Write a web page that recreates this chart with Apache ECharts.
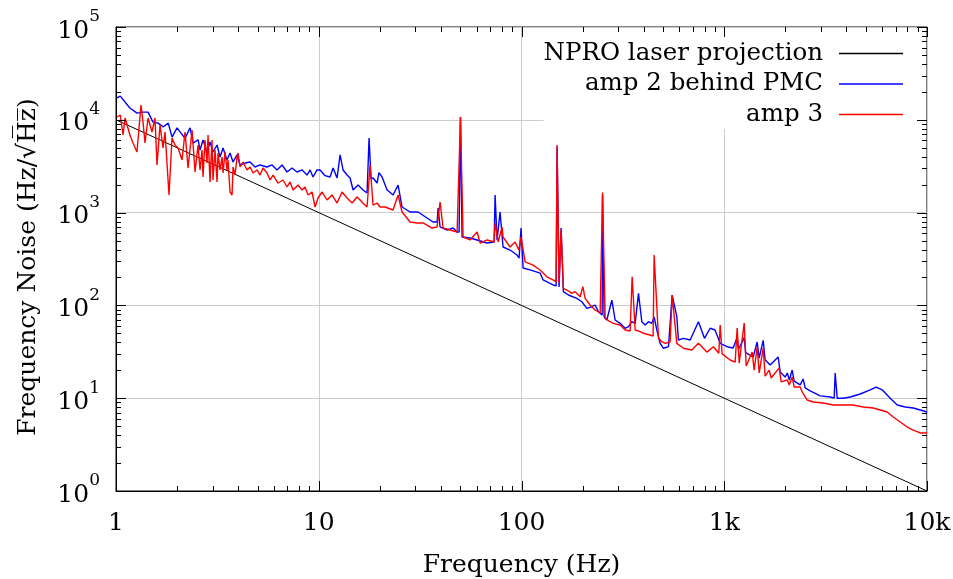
<!DOCTYPE html>
<html><head><meta charset="utf-8">
<script src="https://cdn.jsdelivr.net/npm/echarts@6/dist/echarts.min.js"></script>
<style>html,body{margin:0;padding:0;background:#fff}#c{width:953px;height:579px}</style>
</head><body><div id="c"></div>
<script>
const seriesNames = ['NPRO laser projection', 'amp 2 behind PMC', 'amp 3'];
const nproLine = [[1, 10000], [10000, 1]];
const amp2 = [[1.01,17200],[1.05,18000],[1.17,13400],[1.27,11800],[1.36,12100],[1.44,12100],[1.52,9500],[1.61,9200],[1.71,8400],[1.81,9200],[1.89,6500],[2.0,8200],[2.07,7400],[2.19,6300],[2.32,8200],[2.4,5600],[2.54,6100],[2.597,4727],[2.687,6060],[2.812,4500],[2.909,5765],[3.009,4500],[3.15,5350],[3.259,3970],[3.373,4970],[3.528,3690],[3.651,4390],[3.778,3510],[3.953,4180],[4.091,3260],[4.329,3420],[4.583,3510],[4.851,3100],[5.134,3260],[5.559,3100],[5.884,3260],[6.228,2880],[6.592,3260],[6.977,2740],[7.384,3020],[7.816,2740],[8.273,2880],[8.757,2540],[9.061,2880],[9.373,2420],[9.809,2880],[10.15,2880],[10.74,2500],[11.37,2420],[11.77,3020],[12.31,2360],[12.74,4180],[13.18,2880],[13.79,2540],[14.27,2360],[14.77,1752],[15.63,1983],[16.54,1752],[17.31,1627],[17.71,6370],[18.11,2300],[18.53,2360],[19.4,2084],[19.8,2700],[20.53,2420],[21.73,1752],[23.26,1548],[24.62,1983],[25.76,1149],[28.21,1015],[30.9,1015],[34.2,875],[36.64,792],[38.34,792],[38.78,1121],[39.66,700],[42.95,649],[45.99,682],[48.13,618],[49.24,618],[50,10700],[50.93,546],[55.78,532],[60.39,507],[67.69,470],[73.26,482],[74.1,1548],[75.78,507],[78.4,1015],[81.1,426],[87.8,395],[95.1,349],[97.3,324],[99.5,682],[101.8,253],[110.3,241],[123.5,223],[127.8,188],[143.2,166],[148.2,162],[149.8,5090],[153.2,158],[156.8,682],[160.9,140.5],[170.4,129.4],[187.4,119.2],[198.4,109.6],[210,93],[222.3,96.8],[230.7,101],[239.6,85.5],[249.9,78.8],[251,1548],[255.6,75],[263.6,69.6],[279,114],[289.6,69.6],[306.5,64.1],[324.4,56.7],[337,59],[350,66.7],[363.6,64.1],[377.6,135],[392.2,66.7],[407.2,61.5],[422.8,66.7],[439.3,64.1],[451,75],[465.1,54.3],[482.9,39],[501.4,34.5],[530.8,35.9],[553.4,129],[583.6,75.5],[594,42.4],[629,44.2],[679,42.4],[746,66.7],[798.6,44.2],[852,56.7],[900,54.3],[955,39],[1045,35.6],[1106,34.7],[1158,45],[1175,33.5],[1198,33.1],[1254,45],[1275,31],[1297,30.7],[1389,27.8],[1453,40.3],[1487,27],[1556,42],[1591,25.8],[1685,22.8],[1845,27.8],[1887,19.2],[1997,16.9],[2046,18.7],[2094,15.7],[2163,20.1],[2212,15.3],[2368,13.9],[2450,16.1],[2507,12.9],[2653,12.0],[2973,10.6],[3331,10.3],[3485,10],[3525,18.7],[3606,10],[3861,10],[4180,10.3],[4682,11.1],[5246,12.3],[5616,13.2],[6012,12.3],[6584,10],[7130,8.45],[7807,8.04],[8553,7.84],[9258,7.46],[10000,7.1]];
const amp3 = [[1.01,10720],[1.05,11270],[1.083,6860],[1.108,10460],[1.133,10460],[1.172,6860],[1.213,5620],[1.269,4500],[1.328,14430],[1.359,9470],[1.39,5620],[1.439,10460],[1.505,7390],[1.557,10460],[1.593,3260],[1.649,8790],[1.706,4970],[1.745,7390],[1.826,1548],[1.889,6370],[1.955,5350],[2.023,4970],[2.117,3690],[2.19,7390],[2.266,3020],[2.372,7770],[2.454,2740],[2.539,5350],[2.597,2880],[2.657,4727],[2.687,2420],[2.748,6060],[2.812,3420],[2.844,6860],[2.909,2140],[2.976,6060],[3.009,2245],[3.079,4727],[3.15,2140],[3.186,4390],[3.259,2880],[3.334,3970],[3.373,2670],[3.45,4500],[3.528,2880],[3.569,3690],[3.651,1667],[3.736,1548],[3.778,3100],[3.865,2540],[3.953,3970],[4.0,4390],[4.091,3100],[4.233,3510],[4.429,2880],[4.583,3100],[4.742,2670],[4.962,2880],[5.134,2540],[5.312,3020],[5.559,2670],[5.752,2245],[5.951,2540],[6.299,2084],[6.667,2245],[6.977,1888],[7.22,2140],[7.468,1752],[7.906,1983],[8.273,1752],[8.56,1888],[8.855,1548],[9.268,1667],[9.588,1149],[9.92,1437],[10.38,1667],[10.99,1367],[11.63,1548],[12.31,1268],[13.03,1667],[13.79,1437],[14.6,1268],[15.45,1472],[15.99,1367],[16.54,1260],[17.31,1149],[17.91,3260],[18.53,1200],[19.4,1268],[20.06,1149],[21.24,1149],[23.26,1067],[24.62,1548],[25.76,1015],[28.21,792],[30.55,773],[32.7,773],[36.2,682],[38.34,700],[39.66,1301],[41.05,682],[44.45,649],[48.13,618],[49.2,618],[50,10700],[51.51,546],[55.78,507],[60.39,618],[62.5,470],[67.69,507],[73.26,482],[74.1,773],[76.7,482],[80.23,700],[81.1,546],[87.8,426],[92.97,482],[97,395],[99.5,546],[104.2,294],[114.1,272],[123.5,241],[133.8,202],[143.2,188],[148.2,179],[149.8,5350],[153.2,174],[156.8,649],[160.9,152.9],[167.3,146.5],[177.1,135],[183.8,140.5],[194.6,124.1],[200.7,159],[206,119.2],[218,101],[230.7,89.2],[244.3,82.8],[249.9,78.8],[251,1650],[258.6,72.6],[273.6,66.7],[284,64.1],[306.5,61.5],[324.4,54.3],[343.4,53],[351.3,203.8],[363.6,54.3],[384.7,52.1],[399.5,50.1],[430.9,48],[445.9,46.8],[451,349],[473.8,44.2],[492.2,40.6],[511,39],[541,40.6],[553.4,129],[583.6,39],[629.2,34.5],[692,33.1],[746,39],[820.6,31.4],[884.6,35.9],[940,30.5],[955,61.5],[976,30],[1069,25.8],[1132,24.5],[1158,57],[1185,23.9],[1254,64.6],[1283,22.2],[1373,31.5],[1405,20.1],[1453,35.6],[1487,18.7],[1556,34.7],[1591,17.3],[1666,20.1],[1704,16.5],[1866,21.2],[1909,15],[2046,15.7],[2094,13.9],[2163,16.9],[2212,13.2],[2368,13.2],[2424,11.7],[2564,9.56],[2745,9.1],[3075,8.88],[3446,8.45],[3861,8.45],[4324,8.45],[4845,8.04],[5428,7.84],[5877,7.46],[6364,7.1],[6813,6.27],[7378,5.54],[7989,4.89],[8553,4.54],[9258,4.22],[10000,4.22]];
const xTicks = [1, 10, 100, 1000, 10000];
const xTickLabels = ['1', '10', '100', '1k', '10k'];
const yTicks = [1, 10, 100, 1000, 10000, 100000];
const yTickExponents = ['0', '1', '2', '3', '4', '5'];
const minorMultipliers = [2, 3, 4, 5, 6, 7, 8, 9];

const FONT = 'DejaVu Serif';
const FS = 25;
const MAJOR_LEN = 10, MINOR_LEN = 5;

function tickIndex(ticks, v) {
  return ticks.findIndex(t => Math.abs(Math.log10(t) - Math.log10(v)) < 1e-6);
}
function buildTickData(ticks) {
  const out = [];
  ticks.forEach((t, i) => {
    out.push([t, MAJOR_LEN]);
    if (i < ticks.length - 1) minorMultipliers.forEach(m => out.push([t * m, MINOR_LEN]));
  });
  return out;
}
const xTickData = buildTickData(xTicks).map(d => [d[0], yTicks[0], d[1]]);
const yTickData = buildTickData(yTicks).map(d => [xTicks[0], d[0], d[1]]);
const yLo = yTicks[0], yHi = yTicks[yTicks.length - 1];
const xLo = xTicks[0], xHi = xTicks[xTicks.length - 1];

function ln(x1, y1, x2, y2) {
  return { type: 'line', shape: { x1, y1, x2, y2 }, style: { stroke: '#000', lineWidth: 1 } };
}

const chart = echarts.init(document.getElementById('c'), null, { renderer: 'canvas' });
chart.setOption({
  animation: false,
  backgroundColor: '#fff',
  grid: { left: 116, right: 26, top: 27, bottom: 88, containLabel: false, outerBoundsMode: 'none',
    show: true, borderColor: '#000', borderWidth: 1, backgroundColor: 'transparent' },
  legend: {
    data: seriesNames, orient: 'vertical', right: 28, top: 28, align: 'right',
    icon: 'path://M0,0H50V1H0Z',
    itemWidth: 64, itemHeight: 14, itemGap: 5.5, padding: [13, 22, 2, 0],
    backgroundColor: '#fff', selectedMode: false, z: 4,
    textStyle: { fontFamily: FONT, fontSize: 24.5, color: '#000', padding: [0, 11, 0, 0] }
  },
  xAxis: {
    type: 'log', logBase: 10, min: xLo, max: xHi,
    name: 'Frequency (Hz)', nameLocation: 'middle', nameGap: 62,
    nameTextStyle: { fontFamily: FONT, fontSize: FS, color: '#000' },
    axisLine: { show: true, lineStyle: { color: '#000', width: 1 } },
    axisTick: { show: false }, minorTick: { show: false },
    splitLine: { show: true, lineStyle: { color: '#cccccc', width: 1 } },
    axisLabel: {
      fontFamily: FONT, fontSize: FS, color: '#000', margin: 20,
      formatter: v => { const i = tickIndex(xTicks, v); return i >= 0 ? xTickLabels[i] : ''; }
    }
  },
  yAxis: {
    type: 'log', logBase: 10, min: yLo, max: yHi,
    name: 'Frequency Noise (Hz/\u221AH\u0305z\u0305)', nameLocation: 'middle', nameGap: 75,
    nameTextStyle: { fontFamily: FONT, fontSize: FS, color: '#000', padding: [0, 16, 0, 0] },
    axisLine: { show: true, lineStyle: { color: '#000', width: 1 } },
    axisTick: { show: false }, minorTick: { show: false },
    splitLine: { show: true, lineStyle: { color: '#cccccc', width: 1 } },
    axisLabel: {
      fontFamily: FONT, fontSize: FS, color: '#000', margin: 16,
      formatter: v => { const i = tickIndex(yTicks, v); return i >= 0 ? '{b|10}{sup|' + yTickExponents[i] + '}' : ''; },
      rich: {
        b: { fontFamily: FONT, fontSize: FS, color: '#000', padding: [8, 0, 0, 0] },
        sup: { fontFamily: FONT, fontSize: 17, color: '#000', padding: [0, 0, 20, 0] }
      }
    }
  },
  series: [
    { name: seriesNames[0], type: 'line', data: nproLine, symbol: 'none', z: 2,
      lineStyle: { color: '#000', width: 1 }, itemStyle: { color: '#000' } },
    { name: seriesNames[1], type: 'line', data: amp2, symbol: 'none', z: 2,
      lineStyle: { color: '#0000ff', width: 1.4 }, itemStyle: { color: '#0000ff' } },
    { name: seriesNames[2], type: 'line', data: amp3, symbol: 'none', z: 2,
      lineStyle: { color: '#ff0000', width: 1.4 }, itemStyle: { color: '#ff0000' } },
    { type: 'custom', coordinateSystem: 'cartesian2d', silent: true, z: 10, clip: false,
      data: xTickData,
      renderItem: (params, api) => {
        const v = api.value(0), L = api.value(2);
        const b = api.coord([v, yLo]), t = api.coord([v, yHi]);
        const x = Math.round(b[0]) + 0.5;
        return { type: 'group', children: [ln(x, b[1], x, b[1] - L), ln(x, t[1], x, t[1] + L)] };
      } },
    { type: 'custom', coordinateSystem: 'cartesian2d', silent: true, z: 10, clip: false,
      data: yTickData,
      renderItem: (params, api) => {
        const v = api.value(1), L = api.value(2);
        const l = api.coord([xLo, v]), r = api.coord([xHi, v]);
        const y = Math.round(l[1]) + 0.5;
        return { type: 'group', children: [ln(l[0], y, l[0] + L, y), ln(r[0], y, r[0] - L, y)] };
      } }
  ]
});
</script></body></html>
